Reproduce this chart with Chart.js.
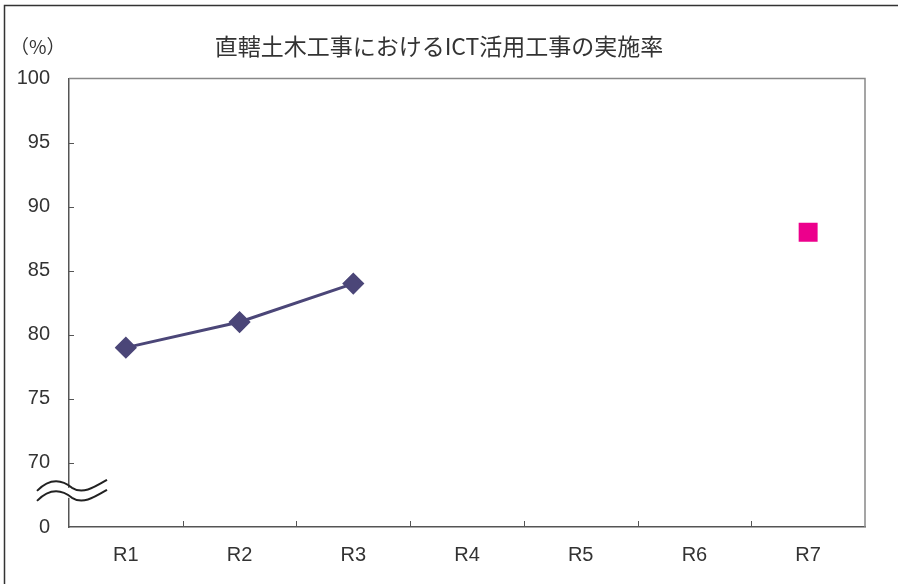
<!DOCTYPE html>
<html>
<head>
<meta charset="utf-8">
<script src="https://cdn.jsdelivr.net/npm/chart.js@4"></script>
<style>
  html, body { margin: 0; padding: 0; background: #fff; }
  #wrap { width: 898px; height: 584px; }
</style>
</head>
<body>
<div id="wrap"><canvas id="ictChart" width="898" height="584"></canvas></div>
<script>
"use strict"

const categories = ["R1", "R2", "R3", "R4", "R5", "R6", "R7"];
const actualRate = [79, 81, 84, null, null, null, null];
const targetRate = [null, null, null, null, null, null, 88];
const yMin = 65;   // shown as "0" below the axis break
const yMax = 100;

const tickFont = { family: "'Liberation Sans'", size: 20 };

const frameAndBreak = {
    id: "frameAndBreak",
    afterDraw(chart) {
        const ctx = chart.ctx;
        const area = chart.chartArea;
        const x = chart.scales.x;
        const y = chart.scales.y;
        ctx.save();

        // outer frame
        ctx.strokeStyle = "#333";
        ctx.lineWidth = 1.5;
        ctx.strokeRect(4.5, 5.5, 1000, 1000);

        // top and right edge of plot area
        ctx.strokeStyle = "#888";
        ctx.lineWidth = 1.5;
        ctx.beginPath();
        ctx.moveTo(area.left, area.top);
        ctx.lineTo(area.right, area.top);
        ctx.lineTo(area.right, area.bottom);
        ctx.stroke();

        // inward tick marks
        ctx.strokeStyle = "#555";
        ctx.lineWidth = 1;
        ctx.beginPath();
        y.ticks.forEach(t => {
            if (t.value === yMin || t.value === yMax) return;
            const py = Math.round(y.getPixelForValue(t.value)) + 0.5;
            ctx.moveTo(area.left, py);
            ctx.lineTo(area.left + 5, py);
        });
        for (let i = 1; i < categories.length; i++) {
            const px = Math.round((x.getPixelForValue(i - 1) + x.getPixelForValue(i)) / 2) + 0.5;
            ctx.moveTo(px, area.bottom);
            ctx.lineTo(px, area.bottom - 6);
        }
        ctx.stroke();

        // axis break
        const cy = y.getPixelForValue(67.9);
        const wave = (dy) => {
            ctx.moveTo(area.left - 32, cy + dy + 6);
            ctx.bezierCurveTo(area.left - 20, cy + dy - 6, area.left - 8, cy + dy - 6, area.left + 3, cy + dy + 3);
            ctx.bezierCurveTo(area.left + 14, cy + dy + 10, area.left + 26, cy + dy + 2, area.left + 38, cy + dy - 5);
        };
        ctx.fillStyle = "#fff";
        ctx.beginPath();
        ctx.rect(area.left - 3, cy - 2, 6, 10);
        ctx.fill();
        ctx.strokeStyle = "#222";
        ctx.lineWidth = 2;
        ctx.beginPath();
        wave(-5);
        wave(5);
        ctx.stroke();

        // unit label
        ctx.fillStyle = "#333";
        ctx.font = "19px 'Noto Sans CJK JP'";
        ctx.textAlign = "left";
        ctx.textBaseline = "middle";
        ctx.fillText("（%）", 10, 47);
        ctx.restore();
    }
};

new Chart(
    document.querySelector("#ictChart"),
    {
        type: "line",
        data: {
            labels: categories,
            datasets: [{
                label: "実施率",
                data: actualRate,
                borderColor: "#4b4678",
                backgroundColor: "#4b4678",
                borderWidth: 3,
                pointStyle: "rectRot",
                pointRadius: 9,
                pointHoverRadius: 9,
                spanGaps: false,
            }, {
                label: "目標",
                data: targetRate,
                borderColor: "#ec008c",
                backgroundColor: "#ec008c",
                showLine: false,
                pointStyle: "rect",
                pointRadius: 13.4,
                pointHoverRadius: 13.4,
                borderWidth: 0,
            }],
        },
        options: {
            responsive: false,
            animation: false,
            layout: { padding: { left: 13, right: 33, top: 0, bottom: 0 } },
            plugins: {
                legend: { display: false },
                tooltip: { enabled: false },
                title: {
                    display: true,
                    text: "直轄土木工事におけるICT活用工事の実施率",
                    color: "#333",
                    font: { family: "'Noto Sans CJK JP'", size: 23, weight: "normal" },
                    padding: { top: 32, bottom: 19 },
                },
            },
            scales: {
                x: {
                    offset: true,
                    grid: { display: false },
                    border: { display: true, color: "#555", width: 1.5 },
                    ticks: {
                        color: "#333",
                        padding: 8,
                        font: tickFont,
                    },
                    afterFit(scale) { scale.height = 57; },
                },
                y: {
                    min: yMin,
                    max: yMax,
                    grid: { display: false },
                    border: { display: true, color: "#555", width: 1.5 },
                    ticks: {
                        stepSize: 5,
                        color: "#333",
                        padding: 11,
                        font: tickFont,
                        callback: (v) => v === yMin ? "0" : v,
                    },
                    afterFit(scale) { scale.width = 56; },
                },
            },
        },
        plugins: [frameAndBreak],
    }
);
</script>
</body>
</html>
